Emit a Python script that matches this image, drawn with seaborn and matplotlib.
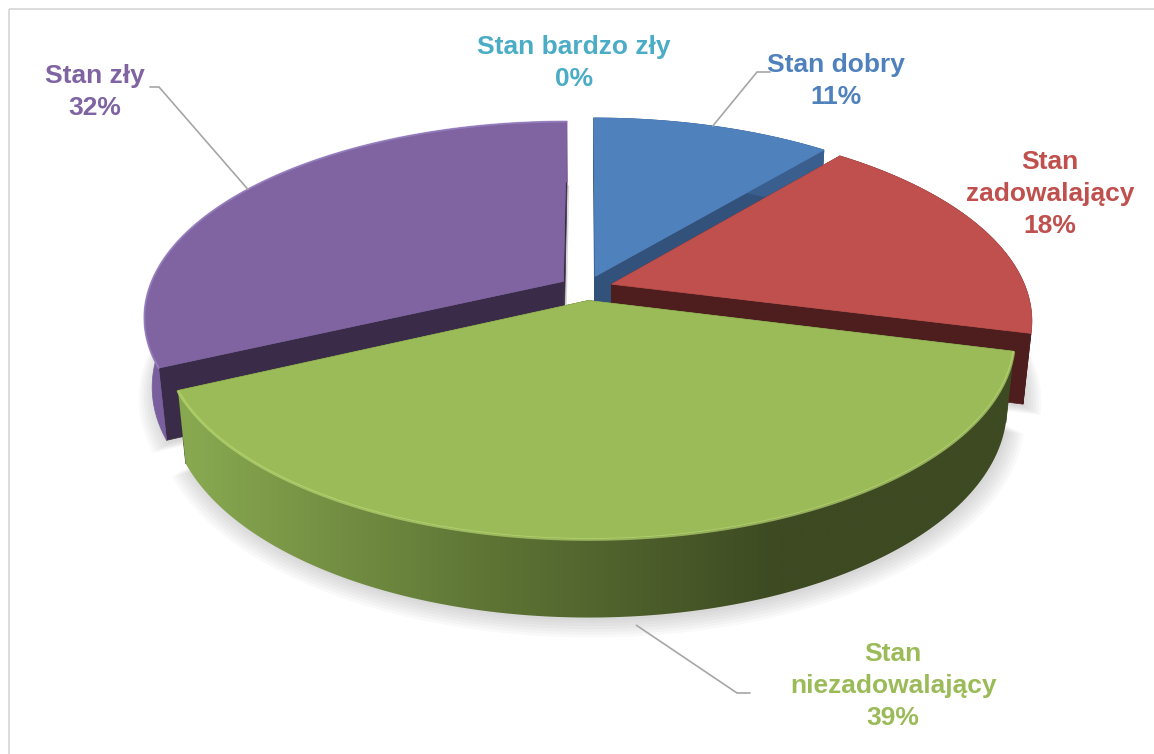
import numpy as np
import matplotlib
matplotlib.use("Agg")
import matplotlib.pyplot as plt
import seaborn as sns
from matplotlib.patches import Polygon, Rectangle
from matplotlib.colors import LinearSegmentedColormap

# ---------------- data ----------------
categories = ["Stan dobry", "Stan zadowalający", "Stan niezadowalający", "Stan zły", "Stan bardzo zły"]
values = [11, 18, 39, 32, 0]
pct_labels = ["11%", "18%", "39%", "32%", "0%"]
label_names = ["Stan dobry", "Stan\nzadowalający", "Stan\nniezadowalający", "Stan zły", "Stan bardzo zły"]

# ---------------- style ----------------
top_colors = ["#4F81BD", "#C0504D", "#9BBB59", "#8064A2", "#4BACC6"]
radial_colors = ["#32527B", "#4E1D1D", "#3D4A22", "#3A2C48", "#2E6F80"]
outer_colors = ["#3A5F8F", "#4E1D1D", None, "#7A5F9E", "#3B8EA5"]
text_colors = ["#4F81BD", "#C0504D", "#9BBB59", "#8064A2", "#4BACC6"]

W, H_PX = 1154, 754
CX, CY = 586.0, 288.0
FOC, DIST = 2063.0, 4.98
SIN_T = 0.46
COS_T = np.sqrt(1 - SIN_T ** 2)
DEPTH = 0.19
EXPLODE = 0.065

label_pos = {0: (836, 81), 1: (1050, 194), 2: (893, 686), 3: (95, 92), 4: (574, 63)}
leader_elbows = {0: [(757, 72), (770, 72)], 2: [(737, 693), (750, 693)], 3: [(159, 87), (150, 87)]}

sns.set_theme(style="white")
plt.rcParams["font.family"] = ["Liberation Sans", "DejaVu Sans"]

fig = plt.figure(figsize=(W / 100, H_PX / 100), dpi=100)
ax = fig.add_axes([0, 0, 1, 1])
ax.set_axis_off()


def project(X, Y, Z):
    yc = Y * SIN_T + Z * COS_T
    zc = Y * COS_T - Z * SIN_T + DIST
    return CX + FOC * X / zc, CY - FOC * yc / zc


total = float(sum(values))
bounds = np.concatenate([[0], np.cumsum(values)]) / total * 360.0

slices = []
for i, v in enumerate(values):
    if v <= 0:
        continue
    t0, t1 = bounds[i], bounds[i + 1]
    mid = np.radians((t0 + t1) / 2)
    ox, oy = EXPLODE * np.sin(mid), EXPLODE * np.cos(mid)
    th = np.radians(np.linspace(t0, t1, 120))
    slices.append(dict(i=i, t0=t0, t1=t1, mid=mid, ox=ox, oy=oy, th=th, depth=np.cos(mid)))

# ---------------- soft shadow (below each slice's base) ----------------
for sl in slices:
    th = sl["th"]
    for k in range(7):
        r = 1.0 + 0.006 * k
        sx, sy = project(r * np.sin(th) + sl["ox"], r * np.cos(th) + sl["oy"], -DEPTH)
        cx0, cy0 = project(sl["ox"], sl["oy"], -DEPTH)
        ax.fill(np.concatenate([[cx0], sx]) + 2, np.concatenate([[cy0], sy]) + 3 + k,
                color="#8a8a8a", alpha=0.05, lw=0, zorder=1)

z = 2
for sl in sorted(slices, key=lambda s: -s["depth"]):
    i, th, ox, oy = sl["i"], sl["th"], sl["ox"], sl["oy"]
    Xa, Ya = np.sin(th) + ox, np.cos(th) + oy
    tx, ty = project(Xa, Ya, 0.0)
    bx, by = project(Xa, Ya, -DEPTH)
    cxt, cyt = project(ox, oy, 0.0)
    cxb, cyb = project(ox, oy, -DEPTH)
    # radial faces
    for j in (0, -1):
        ax.add_patch(Polygon([(cxt, cyt), (tx[j], ty[j]), (bx[j], by[j]), (cxb, cyb)],
                             closed=True, fc=radial_colors[i], ec=radial_colors[i], lw=0.5, zorder=z))
    z += 1
    # outer curved face
    outer = np.column_stack([np.concatenate([tx, bx[::-1]]), np.concatenate([ty, by[::-1]])])
    if outer_colors[i] is not None:
        ax.add_patch(Polygon(outer, closed=True, fc=outer_colors[i], ec=outer_colors[i], lw=0.5, zorder=z))
    else:
        clip = Polygon(outer, closed=True, transform=ax.transData)
        xs = np.linspace(outer[:, 0].min(), outer[:, 0].max(), 400)
        tval = np.clip((xs - 190) / (780 - 190), 0, 1)
        cmap = LinearSegmentedColormap.from_list("g", ["#88A850", "#5E7535", "#3D4A22"])
        im = ax.imshow(tval[None, :], cmap=cmap, vmin=0, vmax=1, aspect="auto",
                       extent=[xs[0], xs[-1], outer[:, 1].max(), outer[:, 1].min()],
                       zorder=z, interpolation="bilinear")
        im.set_clip_path(clip)
    z += 1
    # top face
    top = np.column_stack([np.concatenate([[cxt], tx]), np.concatenate([[cyt], ty])])
    ax.add_patch(Polygon(top, closed=True, fc=top_colors[i], ec=top_colors[i], lw=0.5, zorder=z))
    if i == 2:
        ax.plot(tx, ty + 1, color="#B8D872", lw=2.0, alpha=0.7, zorder=z + 0.5)
    if i == 3:
        ax.plot(tx, ty, color="#9C86C6", lw=1.4, alpha=0.7, zorder=z + 0.5)
    z += 1
    sl["anchor_top"] = project(np.sin(sl["mid"]) + ox, np.cos(sl["mid"]) + oy, 0.0)
    sl["anchor_bot"] = project(np.sin(sl["mid"]) + ox, np.cos(sl["mid"]) + oy - 0.03, -DEPTH)

# ---------------- leader lines ----------------
for sl in slices:
    i = sl["i"]
    if i not in leader_elbows:
        continue
    a = sl["anchor_bot"] if i == 2 else sl["anchor_top"]
    pts = [a] + leader_elbows[i]
    ax.plot([p[0] for p in pts], [p[1] for p in pts], color="#A6A6A6", lw=1.2, zorder=z + 1)

# ---------------- labels ----------------
for i in range(len(values)):
    x, y = label_pos[i]
    ax.text(x, y, f"{label_names[i]}\n{pct_labels[i]}", ha="center", va="center",
            color=text_colors[i], fontsize=19, fontweight="bold", linespacing=1.4,
            zorder=z + 2)

ax.add_patch(Rectangle((8.5, 8.5), 1200, 800, fill=False, ec="#D9D9D9", lw=1.3, zorder=z + 3))

ax.set_xlim(0, W)
ax.set_ylim(H_PX, 0)
fig.savefig("out.png", dpi=100, facecolor="white")
